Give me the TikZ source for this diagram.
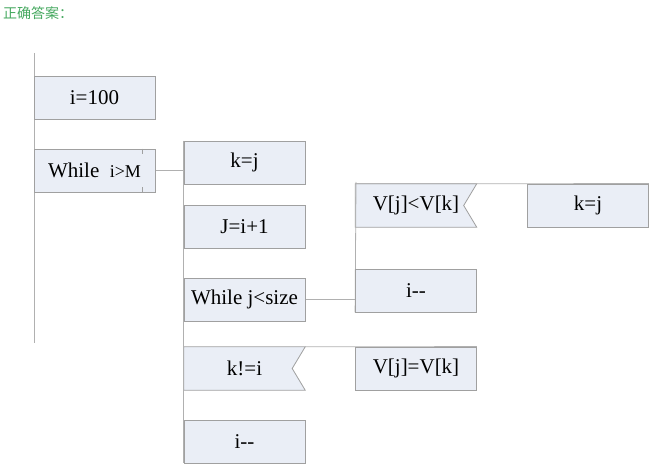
\documentclass[tikz,border=0pt]{standalone}
\usepackage{fontspec}
\setmainfont{Liberation Serif}
\newfontfamily\cjk{Noto Sans CJK SC}
\usetikzlibrary{backgrounds}
\definecolor{boxfill}{HTML}{EAEEF6}
\definecolor{boxline}{HTML}{A0A0A0}
\definecolor{conn}{HTML}{B0B0B0}
\definecolor{hdr}{HTML}{45A85F}
\newcommand{\dm}{\mbox{-}\mbox{-}}
\begin{document}
\begin{tikzpicture}[x=1pt,y=-1pt,
  blk/.style={draw=boxline,fill=boxfill,line width=0.8pt,minimum width=121pt,minimum height=43pt,inner sep=0pt,font=\fontsize{21}{21}\selectfont},
  nblk/.style={draw=none,fill=none,minimum width=121pt,minimum height=43pt,inner sep=0pt,font=\fontsize{21}{21}\selectfont},
  notchline/.style={draw=boxline,fill=boxfill,line width=0.8pt},
  wire/.style={draw=conn,line width=0.8pt}]
\useasboundingbox (0,0) rectangle (659,473);
\node[anchor=west,text=hdr,font=\cjk\fontsize{14}{14}\selectfont,inner sep=0pt] (hd) at (3,13) {正确答案：};
% column 1
\coordinate (top1) at (34,53);
\coordinate (bot1) at (34,343);
\node[blk] (a1) at (94.5,97.5) {i=100};
\node[blk] (a2) at (94.5,170.5) {While~~{\fontsize{18}{18}\selectfont i>M}};
\draw[boxline,line width=0.6pt] ([xshift=-13pt]a2.north east) -- ++(0,5);
\draw[boxline,line width=0.6pt] ([xshift=-13pt]a2.south east) -- ++(0,-5);
% column 2
\node[blk] (b1) at (244.5,162.5) {k=j};
\node[blk] (b2) at (244.5,226.5) {J=i+1};
\node[blk] (b3) at (244.5,299.5) {While j<size};
\node[nblk] (b4) at (244.5,368.5) {k!=i};
\node[blk] (b5) at (244.5,441.5) {i\dm};
% column 3
\node[nblk] (c1) at (416,205.5) {V[j]<V[k]};
\node[blk] (c2) at (588,205.5) {k=j};
\node[blk] (c3) at (416,290.5) {i\dm};
\node[blk] (c4) at (416,368.5) {V[j]=V[k]};
\coordinate (top3) at (356,182);
\begin{scope}[on background layer]
  \path[notchline] (c1.north west) -- (c1.north east) -- ([xshift=-13pt]c1.east) -- (c1.south east) -- (c1.south west) -- cycle;
  \path[notchline] (b4.north west) -- (b4.north east) -- ([xshift=-13pt]b4.east) -- (b4.south east) -- (b4.south west) -- cycle;
  \draw[wire] (top1) -- (bot1);
  \draw[wire] (b1.north west) -- (b5.south west);
  \draw[wire] (top3) -- (c3.south west);
  \draw[wire] (a2.east) -- (a2.east -| b1.west);
  \draw[wire] (b3.east) -- (b3.east -| c3.west);
  \draw[wire] (c1.north west) -- (c2.north east);
  \draw[wire] (b4.north east) -- (c4.north east);
\end{scope}
\end{tikzpicture}
\end{document}
